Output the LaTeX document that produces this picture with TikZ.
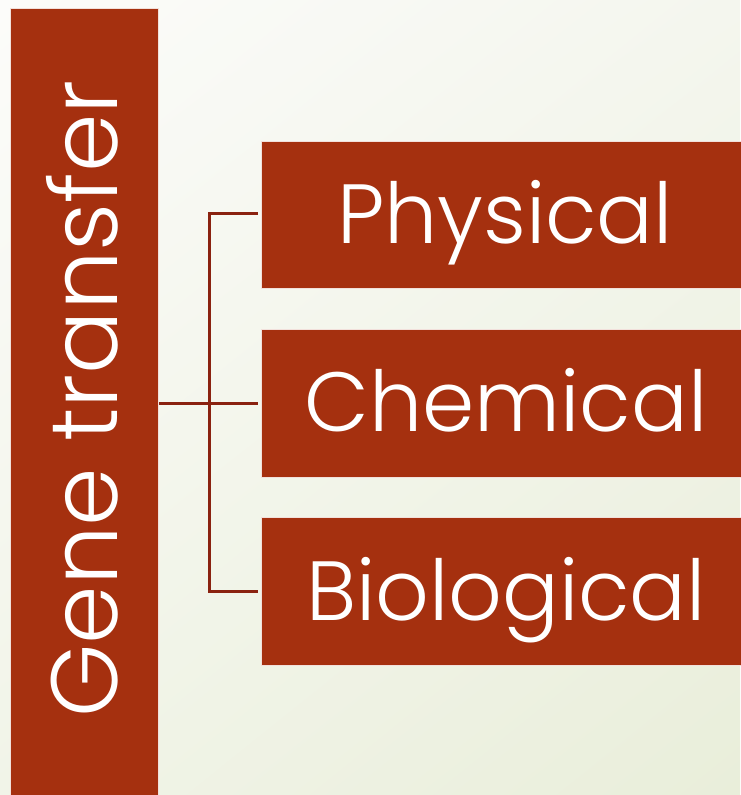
\documentclass[tikz,border=0pt]{standalone}
\usepackage{fontspec}
\usetikzlibrary{shadings}
\setmainfont{Poppins}[UprightFont=* Light]
\definecolor{rust}{HTML}{A5300F}
\definecolor{linkred}{HTML}{8A2210}
\definecolor{bgTL}{HTML}{FCFCFA}
\definecolor{bgTR}{HTML}{F4F6EE}
\definecolor{bgBL}{HTML}{F1F4E8}
\definecolor{bgBR}{HTML}{E9EEDA}
\begin{document}
\begin{tikzpicture}[x=1pt,y=-1pt,
  bar/.style={fill=rust,draw=white!85!rust,line width=0.8pt},
  catbox/.style={fill=rust,draw=white!85!rust,line width=0.8pt},
  lbl/.style={text=white,inner sep=0pt,anchor=base,font=\fontsize{84}{88}\selectfont},
  link/.style={draw=linkred,line width=3pt}]
  % page background with a soft gradient
  \shade[upper left=bgTL,upper right=bgTR,lower left=bgBL,lower right=bgBR] (0,0) rectangle (740,795);
  \useasboundingbox (0,0) rectangle (740,795);
  % vertical title bar
  \path[bar] (10,8) rectangle (158,800);
  \node[lbl,font=\fontsize{94}{98}\selectfont,rotate=90] (title) at (117,399) {Gene transfer};
  \coordinate (barR) at (159,403);
  % category boxes
  \path[catbox] (261,141) rectangle (745,288);
  \path[catbox] (261,329) rectangle (745,477);
  \path[catbox] (261,517) rectangle (745,665);
  \node[lbl] (phys) at (505,243) {Physical};
  \node[lbl] (chem) at (506,431) {Chemical};
  \node[lbl] (bio) at (506,620) {Biological};
  \coordinate (inA) at (258,213);
  \coordinate (inB) at (258,403);
  \coordinate (inC) at (258,591);
  \coordinate (spine) at (209,403);
  % connectors
  \draw[link] (barR) -- (inB);
  \draw[link] (inA) -| (spine) |- (inC);
\end{tikzpicture}
\end{document}
